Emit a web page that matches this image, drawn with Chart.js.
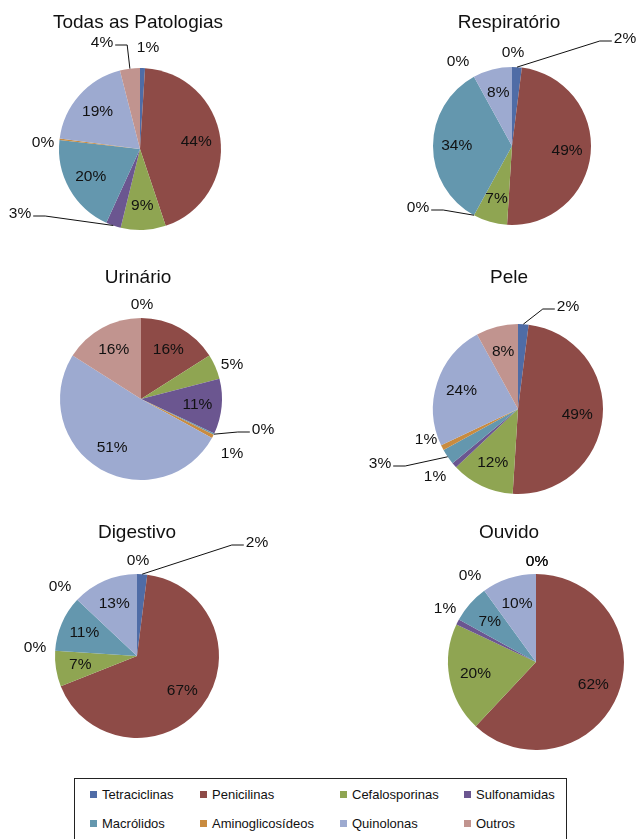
<!DOCTYPE html>
<html>
<head>
<meta charset="utf-8">
<script src="https://cdn.jsdelivr.net/npm/chart.js@4.4.1/dist/chart.umd.min.js"></script>
<style>
  body { margin: 0; background: #fff; font-family: "Liberation Sans", Arial, sans-serif; }
  #page { position: relative; width: 638px; height: 839px; overflow: hidden; }
  #page canvas { position: absolute; left: 0; top: 0; }
  #legend { position: absolute; left: 74px; top: 778px; width: 491px; height: 80px; border: 1px solid #222; }
  .item { position: absolute; font-size: 13px; color: #111; line-height: 16px; white-space: nowrap; }
  .item span { display: inline-block; width: 7px; height: 7px; margin-right: 5px; vertical-align: 1px; }
</style>
</head>
<body>
<div id="page">
  <div id="legend"></div>
</div>
<script>
// categories (same order in every pie)
const categories = ['Tetraciclinas', 'Penicilinas', 'Cefalosporinas', 'Sulfonamidas',
                    'Macrólidos', 'Aminoglicosídeos', 'Quinolonas', 'Outros'];
const titles = ['Todas as Patologias', 'Respiratório', 'Urinário', 'Pele', 'Digestivo', 'Ouvido'];

// percentages
const todasPatologias = [1, 44, 9, 3, 20, 0.3, 19, 4];
const respiratorio    = [2, 49, 7, 0, 34, 0, 8, 0];
const urinario        = [0, 16, 5, 11, 0.3, 0.7, 51, 16];
const pele            = [2, 49, 12, 1, 3, 1, 24, 8];
const digestivo       = [2, 67, 7, 0, 11, 0, 13, 0];
const ouvido          = [0, 62, 20, 1, 7, 0, 10, 0];
const series = [todasPatologias, respiratorio, urinario, pele, digestivo, ouvido];

const sliceColors = ['#4F6CA6', '#8E4B47', '#8FA552', '#6B5690', '#6497AE', '#C98B3F', '#9DAAD0', '#C1948F'];

// where each pie sits on the page (centre, radius, title position)
const pieLayout = [
  { cx: 140, cy: 149, r: 81, tx: 138, ty: 23 },
  { cx: 512, cy: 146, r: 79, tx: 509, ty: 23 },
  { cx: 141, cy: 399, r: 81, tx: 138, ty: 278 },
  { cx: 518, cy: 409, r: 85, tx: 509, ty: 278 },
  { cx: 137, cy: 656, r: 82, tx: 137, ty: 533 },
  { cx: 536, cy: 662, r: 88, tx: 509, ty: 533 }
];

// label spots: null = inside the slice, else [dx, dy from centre, leader line]
const labelSpots = [
  [[8, -101], null, null, [-120, 65, true], null, [-97, -6], null, [-38, -106, true]],
  [[113, -107, true], null, null, [-94, 62, true], null, [-54, -84], null, [1, -93]],
  [[1, -94], null, [91, -34], null, [122, 31, true], [91, 55], null, null],
  [[50, -102, true], null, null, [-83, 68], [-138, 55, true], [-92, 31], null, null],
  [[120, -113, true], null, null, [-102, -8], null, [-77, -69], null, [1, -95]],
  [[1, -100], null, null, [-91, -53], null, [-66, -86], null, [1, -100]]
];

const W = 638, H = 839;
const page = document.getElementById('page');

function labelPlugin(k) {
  return {
    id: 'pieLabels' + k,
    afterDatasetsDraw(chart) {
      const ctx = chart.ctx;
      const lay = pieLayout[k];
      const values = chart.data.datasets[0].data;
      const total = values.reduce((a, b) => a + b, 0);
      ctx.save();
      ctx.fillStyle = '#111';
      ctx.textAlign = 'center';
      ctx.textBaseline = 'middle';
      ctx.font = '19px "Liberation Sans", Arial, sans-serif';
      ctx.fillText(titles[k], lay.tx, lay.ty);

      ctx.font = '15.5px "Liberation Sans", Arial, sans-serif';
      chart.getDatasetMeta(0).data.forEach((arc, i) => {
        const mid = (arc.startAngle + arc.endAngle) / 2;
        const text = Math.round(values[i] / total * 100) + '%';
        const spot = labelSpots[k][i];
        let x, y;
        if (!spot) {
          x = arc.x + Math.cos(mid) * arc.outerRadius * 0.7;
          y = arc.y + Math.sin(mid) * arc.outerRadius * 0.7;
        } else {
          x = arc.x + spot[0];
          y = arc.y + spot[1];
          if (spot[2]) {
            const ax = arc.x + Math.cos(mid) * arc.outerRadius;
            const ay = arc.y + Math.sin(mid) * arc.outerRadius;
            const w = ctx.measureText(text).width;
            const dir = ax > x ? 1 : -1;
            const sx = x + dir * (w / 2 + 2), sy = y + 2;
            ctx.beginPath();
            ctx.moveTo(sx, sy);
            ctx.lineTo(sx + dir * 12, sy);
            ctx.lineTo(ax, ay);
            ctx.strokeStyle = '#111';
            ctx.lineWidth = 1;
            ctx.stroke();
          }
        }
        ctx.fillText(text, x, y);
      });
      ctx.restore();
    }
  };
}

series.forEach((values, k) => {
  const lay = pieLayout[k];
  const canvas = document.createElement('canvas');
  canvas.width = W;
  canvas.height = H;
  page.appendChild(canvas);
  new Chart(canvas.getContext('2d'), {
    type: 'pie',
    data: {
      labels: categories,
      datasets: [{
        data: values,
        backgroundColor: sliceColors,
        borderWidth: 0
      }]
    },
    options: {
      responsive: false,
      animation: false,
      devicePixelRatio: 1,
      layout: {
        padding: {
          left: lay.cx - lay.r,
          top: lay.cy - lay.r,
          right: W - lay.cx - lay.r,
          bottom: H - lay.cy - lay.r
        }
      },
      plugins: {
        legend: { display: false },
        title: { display: false },
        tooltip: { enabled: false }
      }
    },
    plugins: [labelPlugin(k)]
  });
});

// legend box under the pies
const legendCols = [15, 125, 265, 389];
const legendRows = [8, 37];
const legend = document.getElementById('legend');
categories.forEach((name, i) => {
  const div = document.createElement('div');
  div.className = 'item';
  div.style.left = legendCols[i % 4] + 'px';
  div.style.top = legendRows[Math.floor(i / 4)] + 'px';
  div.innerHTML = '<span style="background:' + sliceColors[i] + '"></span>' + name;
  legend.appendChild(div);
});
</script>
</body>
</html>
